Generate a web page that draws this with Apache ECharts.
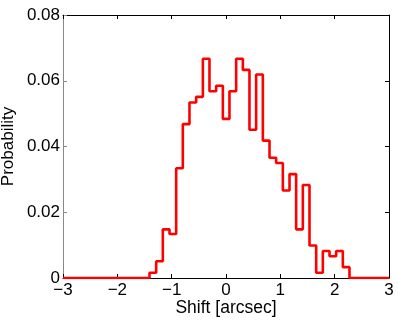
<!DOCTYPE html>
<html>
<head>
<meta charset="utf-8">
<script src="https://cdn.jsdelivr.net/npm/echarts@6/dist/echarts.min.js"></script>
<style>html,body{margin:0;padding:0;background:#fff;}#c{width:398px;height:320px;}</style>
</head>
<body>
<div id="c"></div>
<script>
// Bin edges (arcsec) and probabilities
var binEdges = [-1.408, -1.285, -1.163, -1.040, -0.917, -0.795, -0.672, -0.549, -0.426, -0.304,
  -0.181, -0.058, 0.064, 0.187, 0.310, 0.432, 0.555, 0.678, 0.801, 0.923,
  1.046, 1.169, 1.291, 1.414, 1.537, 1.660, 1.782, 1.905, 2.028, 2.150, 2.273];
var probabilities = [0.0016, 0.0051, 0.0148, 0.0134, 0.0334, 0.0468, 0.0534, 0.0551, 0.0667, 0.0568,
  0.0585, 0.0484, 0.0568, 0.0667, 0.0633, 0.0451, 0.0619, 0.0418, 0.0366, 0.0350,
  0.0266, 0.0316, 0.0148, 0.0283, 0.0099, 0.0016, 0.0082, 0.0066, 0.0082, 0.0033];
var xTicks = [-3, -2, -1, 0, 1, 2, 3];
var yTicks = [0, 0.02, 0.04, 0.06, 0.08];
var xRange = [-3, 3];

var pts = [[xRange[0], 0]];
for (var i = 0; i < probabilities.length; i++) pts.push([binEdges[i], probabilities[i]]);
pts.push([binEdges[binEdges.length - 1], 0]);
pts.push([xRange[1], 0]);

var font = 'Liberation Sans, Arial, Helvetica, sans-serif';
var fmtX = function (v) { return v < 0 ? '\u2212' + Math.abs(v) : String(v); };
var fmtY = function (v) { return v === 0 ? '0' : v.toFixed(2); };

var chart = echarts.init(document.getElementById('c'), null, {renderer: 'canvas'});
chart.setOption({
  animation: false,
  grid: {left: 63, right: 9, top: 15, bottom: 42, containLabel: false, outerBoundsMode: 'none'},
  xAxis: [{
    type: 'value', position: 'bottom', min: xRange[0], max: xRange[1], interval: 1,
    name: 'Shift [arcsec]', nameLocation: 'middle', nameGap: 21, nameMoveOverlap: false,
    nameTextStyle: {fontFamily: font, fontSize: 17.5, color: '#000'},
    axisLine: {show: true, onZero: false, lineStyle: {color: '#000', width: 1}},
    axisTick: {show: true, inside: true, length: 4, lineStyle: {color: '#000'}},
    axisLabel: {fontFamily: font, fontSize: 17, color: '#000', margin: 4, formatter: fmtX},
    splitLine: {show: false}
  }, {
    type: 'value', position: 'top', min: xRange[0], max: xRange[1], interval: 1,
    axisLine: {show: true, onZero: false, lineStyle: {color: '#000', width: 1}},
    axisTick: {show: true, inside: true, length: 4, lineStyle: {color: '#000'}},
    axisLabel: {show: false}, splitLine: {show: false}
  }],
  yAxis: [{
    type: 'value', position: 'left', min: 0, max: 0.08, interval: 0.02,
    name: 'Probability', nameLocation: 'middle', nameGap: 46, nameRotate: 90, nameMoveOverlap: false,
    nameTextStyle: {fontFamily: font, fontSize: 17, color: '#000'},
    axisLine: {show: true, onZero: false, lineStyle: {color: '#888', width: 1}},
    axisTick: {show: true, inside: true, length: 4, lineStyle: {color: '#888'}},
    axisLabel: {fontFamily: font, fontSize: 17, color: '#000', margin: 3, formatter: fmtY},
    splitLine: {show: false}
  }, {
    type: 'value', position: 'right', min: 0, max: 0.08, interval: 0.02,
    axisLine: {show: true, onZero: false, lineStyle: {color: '#000', width: 1}},
    axisTick: {show: true, inside: true, length: 4, lineStyle: {color: '#000'}},
    axisLabel: {show: false}, splitLine: {show: false}
  }],
  series: [{
    type: 'line', step: 'end', data: pts, showSymbol: false, symbol: 'none',
    xAxisIndex: 0, yAxisIndex: 0,
    lineStyle: {color: '#ff0000', width: 2.6}, z: 5
  }]
});
</script>
</body>
</html>
